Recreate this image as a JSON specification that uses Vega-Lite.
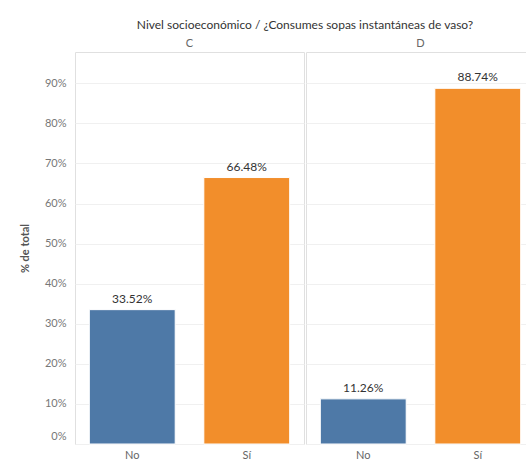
{
  "$schema": "https://vega.github.io/schema/vega-lite/v6.json",
  "padding": {"left": 19, "top": 19, "right": 0, "bottom": 0},
  "background": "white",
  "config": {
    "font": "Lato",
    "view": {"stroke": "#e0e0e0", "strokeWidth": 1},
    "axis": {"labelFont": "Lato", "titleFont": "Lato"}
  },
  "data": {
    "values": [
      {"nivel": "C", "consume": "No", "pct": 0.3352},
      {"nivel": "C", "consume": "Sí", "pct": 0.6648},
      {"nivel": "D", "consume": "No", "pct": 0.1126},
      {"nivel": "D", "consume": "Sí", "pct": 0.8874}
    ]
  },
  "spacing": 0,
  "facet": {
    "column": {
      "field": "nivel",
      "type": "nominal",
      "title": "Nivel socioeconómico / ¿Consumes sopas instantáneas de vaso?",
      "header": {
        "titleFont": "Lato",
        "titleFontSize": 12,
        "titleFontWeight": "normal",
        "titleColor": "#333333",
        "titlePadding": -4,
        "labelFont": "Lato",
        "labelFontSize": 11,
        "labelColor": "#666666",
        "labelPadding": 2
      }
    }
  },
  "spec": {
    "width": 229,
    "height": 392,
    "encoding": {
      "x": {
        "field": "consume",
        "type": "nominal",
        "sort": ["No", "Sí"],
        "scale": {"paddingInner": 0.25, "paddingOuter": 0.125},
        "axis": {
          "title": null,
          "labelAngle": 0,
          "ticks": false,
          "domain": false,
          "labelColor": "#666666",
          "labelFontSize": 11,
          "labelPadding": 4
        }
      },
      "y": {
        "field": "pct",
        "type": "quantitative",
        "scale": {"domain": [0, 0.978], "nice": false},
        "axis": {
          "title": "% de total",
          "titleFontWeight": "bold",
          "titleFontSize": 11,
          "titleColor": "#555555",
          "format": ".0%",
          "values": [0, 0.1, 0.2, 0.3, 0.4, 0.5, 0.6, 0.7, 0.8, 0.9],
          "ticks": false,
          "domain": false,
          "gridColor": "#f0f0f0",
          "labelColor": "#777777",
          "labelFontSize": 11,
          "labelPadding": 8,
          "titlePadding": 14,
          "labelOffset": {"condition": {"test": "datum.value === 0", "value": -8}, "value": 0}
        }
      }
    },
    "layer": [
      {
        "mark": {"type": "bar", "stroke": "white", "strokeWidth": 1},
        "encoding": {
          "color": {
            "field": "consume",
            "type": "nominal",
            "scale": {"domain": ["No", "Sí"], "range": ["#4e79a7", "#f28e2b"]},
            "legend": null
          }
        }
      },
      {
        "mark": {"type": "text", "baseline": "bottom", "dy": -4, "fontSize": 12, "color": "#333333"},
        "encoding": {
          "text": {"field": "pct", "type": "quantitative", "format": ".2%"}
        }
      }
    ]
  }
}
